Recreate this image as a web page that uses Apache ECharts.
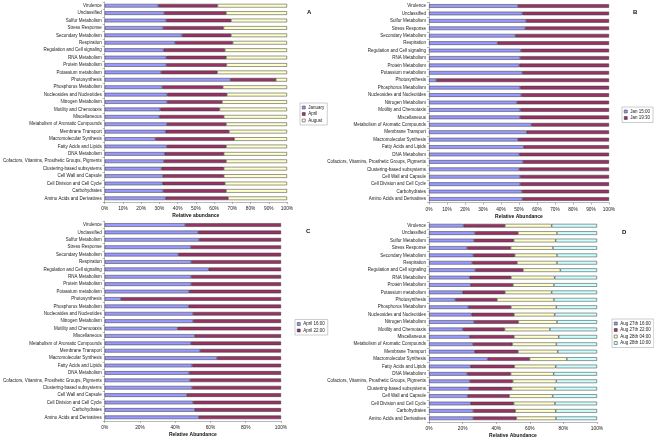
<!DOCTYPE html>
<html><head><meta charset="utf-8">
<script src="https://cdn.jsdelivr.net/npm/echarts@6/dist/echarts.min.js"></script>
<style>html,body{margin:0;padding:0;background:#fff}#c{width:654px;height:440px}</style>
</head><body><div id="c"></div>
<script>
const categories = ["Virulence","Unclassified","Sulfur Metabolism","Stress Response","Secondary Metabolism","Respiration","Regulation and Cell signaling","RNA Metabolism","Protein Metabolism","Potassium metabolism","Photosynthesis","Phosphorus Metabolism","Nucleosides and Nucleotides","Nitrogen Metabolism","Motility and Chemotaxis","Miscellaneous","Metabolism of Aromatic Compounds","Membrane Transport","Macromolecular Synthesis","Fatty Acids and Lipids","DNA Metabolism","Cofactors, Vitamins, Prosthetic Groups, Pigments","Clustering-based subsystems","Cell Wall and Capsule","Cell Division and Cell Cycle","Carbohydrates","Amino Acids and Derivatives"];

// Panel A
const aJanuary = [29.4,32.7,33.8,32.1,42.4,38.6,32.3,33.8,33.8,31.0,69.0,31.6,34.3,34.3,30.5,30.0,34.1,33.4,27.8,34.1,32.9,32.5,31.2,31.9,31.8,32.1,33.4];
const aApril   = [32.5,33.9,35.5,33.1,26.9,31.6,33.6,32.8,33.0,30.7,24.9,33.2,32.7,30.1,32.5,35.3,32.5,34.8,43.3,32.5,32.4,34.1,34.1,33.4,34.1,34.5,34.3];
const aAugust  = [38.1,33.4,30.7,34.8,30.7,29.8,34.1,33.4,33.2,38.3,6.1,35.2,33.0,35.6,37.0,34.7,33.4,31.8,28.9,33.4,34.7,33.4,34.7,34.7,34.1,33.4,32.3];
// Panel B
const bJan1500 = [49.4,51.9,53.9,53.5,48.0,38.1,51.1,50.7,50.2,51.9,4.1,50.7,51.3,48.9,50.7,50.6,56.9,54.3,49.4,52.6,50.2,52.2,50.2,50.7,50.7,51.7,51.9];
const bJan1930 = [50.6,48.1,46.1,46.5,52.0,61.9,48.9,49.3,49.8,48.1,95.9,49.3,48.7,51.1,49.3,49.4,43.1,45.7,50.6,47.4,49.8,47.8,49.8,49.3,49.3,48.3,48.1];
// Panel C
const cApr1600 = [45.7,53.0,53.6,48.9,41.8,49.1,59.0,49.1,49.1,47.9,9.2,47.6,50.2,50.2,41.4,51.1,48.9,54.1,63.7,49.6,47.9,48.5,49.6,46.6,50.2,51.1,53.4];
const cApr2200 = [54.3,47.0,46.4,51.1,58.2,50.9,41.0,50.9,50.9,52.1,90.8,52.4,49.8,49.8,58.6,48.9,51.1,45.9,36.3,50.4,52.1,51.5,50.4,53.4,49.8,48.9,46.6];
// Panel D
const dAug27_1600 = [20.6,27.4,26.8,22.8,26.4,25.8,27.6,24.2,24.8,20.0,15.7,23.4,25.4,26.8,20.2,24.2,26.2,27.2,34.9,24.8,22.8,24.4,23.8,23.0,24.8,26.4,26.4];
const dAug27_2200 = [24.6,25.6,23.6,25.8,24.6,26.6,28.4,24.6,25.2,25.2,24.8,25.4,25.2,26.4,24.8,26.4,23.4,25.8,25.0,26.0,25.8,25.4,25.4,24.8,25.6,25.0,25.6];
const dAug28_0400 = [27.8,23.2,25.0,25.2,25.2,23.8,22.2,26.0,24.4,27.8,33.9,27.0,24.2,23.0,27.0,26.6,26.2,23.6,22.2,24.6,25.6,26.0,25.8,25.8,24.6,24.0,23.6];
const dAug28_1000 = [27.0,23.8,24.6,26.2,23.8,23.8,21.8,25.2,25.6,27.0,25.6,24.2,25.2,23.8,28.0,22.8,24.2,23.4,17.9,24.6,25.8,24.2,25.0,26.4,25.0,24.6,24.4];

const panels = [
  {label:'A', axisName:'Relative abundance', interval:10, grid:{left:103,top:2,width:184,height:200},
   series:[['January',aJanuary],['April',aApril],['August',aAugust]],
   legend:{left:300,top:103}, labelPos:{left:307,top:9}},
  {label:'B', axisName:'Relative Abundance', interval:10, grid:{left:429,top:2.3,width:180,height:200.4},
   series:[['Jan 15:00',bJan1500],['Jan 19:30',bJan1930]],
   legend:{left:622,top:107}, labelPos:{left:633,top:9}},
  {label:'C', axisName:'Relative Abundance', interval:20, grid:{left:103,top:221.3,width:178,height:199.7},
   series:[['April 16:00',cApr1600],['April 22:00',cApr2200]],
   legend:{left:295,top:319.5}, labelPos:{left:306,top:228}},
  {label:'D', axisName:'Relative Abundance', interval:20, grid:{left:429,top:222,width:168,height:200},
   series:[['Aug 27th 16:00',dAug27_1600],['Aug 27th 22:00',dAug27_2200],['Aug 28th 04:00',dAug28_0400],['Aug 28th 10:00',dAug28_1000]],
   legend:{left:612,top:319}, labelPos:{left:622,top:229}}
];
const colors = ['#9999FF','#993366','#FFFFCC','#CCFFFF'];
const FONT = 'Liberation Sans, Arial, sans-serif';

const option = {animation:false, grid:[], xAxis:[], yAxis:[], series:[], legend:[], title:[]};
panels.forEach((p,i)=>{
  option.grid.push(Object.assign({containLabel:false}, p.grid));
  option.xAxis.push({type:'value', gridIndex:i, min:0, max:100, interval:p.interval,
    axisLabel:{formatter:'{value}%', fontSize:4.8, color:'#222', margin:4, fontFamily:FONT},
    axisLine:{show:true, lineStyle:{color:'#888', width:0.6}},
    axisTick:{show:true, length:2, lineStyle:{color:'#888', width:0.6}},
    splitLine:{show:false},
    name:p.axisName, nameLocation:'middle', nameGap:11,
    nameTextStyle:{fontSize:5, fontWeight:'bold', color:'#111', fontFamily:FONT}});
  option.yAxis.push({type:'category', gridIndex:i, data:categories, inverse:true,
    axisLabel:{fontSize:4.5, color:'#222', margin:3, fontFamily:FONT, interval:0},
    axisLine:{show:true, lineStyle:{color:'#888', width:0.6}},
    axisTick:{show:true, length:2, lineStyle:{color:'#888', width:0.6}}});
  const names = [];
  p.series.forEach((s,k)=>{
    names.push(s[0]);
    option.series.push({type:'bar', name:s[0], xAxisIndex:i, yAxisIndex:i, stack:'p'+i,
      data:s[1], barWidth:3.6,
      itemStyle:{color:colors[k], borderColor:'#333', borderWidth:0.5}});
  });
  option.legend.push({data:names, orient:'vertical', left:p.legend.left, top:p.legend.top,
    itemWidth:3, itemHeight:3, itemGap:1.5, padding:[2,3,2,2],
    borderColor:'#999', borderWidth:0.5, backgroundColor:'#fff',
    textStyle:{fontSize:4.5, color:'#222', fontFamily:FONT, padding:[0,0,0,-2]},
    icon:'rect', itemStyle:{borderColor:'#333', borderWidth:0.5}});
  option.title.push({text:p.label, left:p.labelPos.left, top:p.labelPos.top, padding:0,
    textStyle:{fontSize:6, fontWeight:'bold', color:'#111', fontFamily:FONT}});
});
const chart = echarts.init(document.getElementById('c'), null, {renderer:'canvas'});
chart.setOption(option);
</script></body></html>
